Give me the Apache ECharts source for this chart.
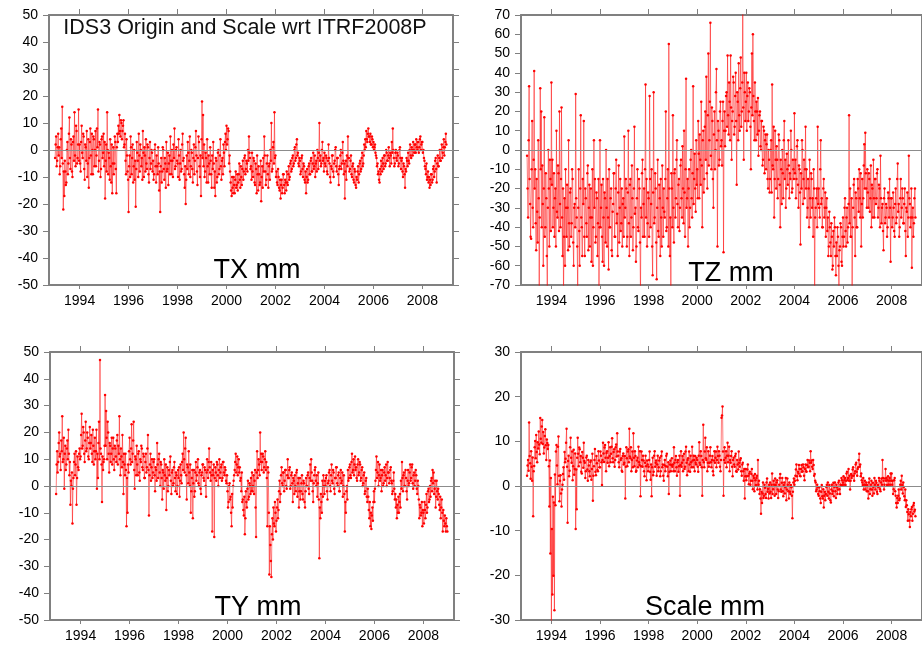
<!DOCTYPE html>
<html><head><meta charset="utf-8">
<script src="https://cdn.jsdelivr.net/npm/echarts@6/dist/echarts.min.js"></script>
<style>html,body{margin:0;padding:0;background:#fff}#c{width:922px;height:648px}</style>
</head><body><div id="c"></div>
<script>
// ---- data ----
const startYear = 1993;
const samplesPerYear = 48;
const yearTicks = [1994, 1996, 1998, 2000, 2002, 2004, 2006, 2008];
const mainTitle = 'IDS3 Origin and Scale wrt ITRF2008P';
const panelTitles = ['TX mm', 'TZ mm', 'TY mm', 'Scale mm'];
const txRange = [-50, 50];
const tzRange = [-70, 70];
const tyRange = [-50, 50];
const scaleRange = [-30, 30];

const txValues = [
 -3,2,5,-6,-4,1,6,-2,1,-9,-6,4,8,-3,16,-5,-22,-8,-17,-4,-8,-13,-12,0,3,-9,-5,6,12,-3,-7,4,2,-8,-10,3,5,-4,14,-2,-6,9,7,-5,-3,2,15,-4,
 2,-5,-8,3,9,-1,-3,6,5,-7,-11,2,1,-4,7,-10,-5,4,-14,-3,3,8,-2,-9,6,0,-9,5,4,-6,0,7,-6,-2,8,1,15,-8,-4,3,2,-10,-7,4,5,-3,-1,6,
 -6,3,-18,-4,2,-8,14,0,-9,-1,-3,-11,4,-6,-12,2,-16,-5,1,-9,-5,5,3,-7,-16,1,6,3,9,6,13,7,5,11,10,4,7,9,11,1,2,6,-4,-9,4,-2,-8,-11,
 -23,-6,-2,-10,5,1,-9,-3,2,-12,-6,0,-11,-4,-21,-7,3,-1,-4,-10,6,-2,-8,2,0,-6,-3,-11,7,-1,-10,1,-2,-8,4,-5,-7,2,1,-9,-12,-3,3,-7,-5,0,-1,-8,
 -4,-11,-9,0,2,-6,-12,-2,-6,-9,1,-5,-15,-8,-23,-6,-3,-12,-8,1,0,-7,-11,-3,-5,-14,3,-8,-7,-1,-13,-5,-2,-9,5,-4,-9,0,-4,-10,2,-3,8,-7,-6,0,1,-4,
 -5,-10,4,-2,-11,-5,0,-8,-7,2,6,-4,-3,-9,-14,-6,-20,-11,-2,-7,3,-1,-9,-4,5,-10,-6,0,-1,-7,-12,-3,2,-9,-4,1,7,-2,-8,-13,-3,5,3,-6,-10,-2,-17,4,
 18,-3,13,-6,2,-10,-8,-1,-3,-12,4,-6,-12,-2,-5,-9,1,-4,-9,-14,-2,-7,3,-5,-14,-8,-17,-3,-4,-12,-10,-1,0,-9,-7,-2,4,-6,-11,-4,-3,-9,2,-1,-6,3,6,0,
 9,2,4,8,7,-5,-2,-8,-12,-15,-17,-10,-14,-16,-10,-13,-16,-11,-8,-14,-13,-9,-15,-12,-9,-5,-11,-14,-6,-10,-13,-7,-4,-11,-8,-3,-2,-9,-7,-4,-5,-8,0,-4,5,-1,-3,-7,
 -6,-11,-1,-8,-10,-3,-4,-12,-13,-5,-7,-16,-2,-9,-15,-6,-9,-13,-12,-4,-19,-10,-6,-14,-3,-8,5,-2,-8,-13,-11,-5,-2,-9,-14,-6,-5,-11,0,-4,10,-8,-7,1,3,-5,14,-3,
 -2,-10,-8,-12,-13,-7,-10,-14,-15,-11,-18,-13,-11,-16,-14,-9,-9,-13,-16,-11,-12,-15,-8,-12,-13,-9,-6,-11,-10,-5,-4,-8,-7,-3,-2,-6,-5,0,1,-4,-3,2,4,-2,-1,-5,-6,-3,
 -4,-9,-8,-3,-2,-7,-10,-5,-6,-11,-12,-8,-16,-10,-7,-12,-11,-6,-5,-9,-9,-4,-3,-8,-8,-5,-1,-7,-6,-2,-10,-5,-4,-8,0,-3,-7,-1,10,-4,-2,-6,-5,0,3,-4,-3,-8,
 -1,-5,-6,-2,-3,-8,-9,-4,2,-3,-5,-10,-12,-6,-7,-2,-2,-8,-10,-5,-4,0,1,-6,-8,-3,-3,-9,-13,-7,-6,-2,0,-7,-5,-1,3,-4,-9,-5,-18,-8,-4,-11,-2,-6,5,-3,
 -3,-8,-7,-4,-2,-9,-10,-6,-5,-11,-12,-7,-8,-13,-14,-10,-11,-8,-6,-12,-9,-5,-4,-8,-7,-3,-1,-6,-5,-2,2,0,4,1,7,4,3,6,8,5,5,3,6,2,2,5,4,1,
 3,0,1,2,-1,-2,-3,-6,-5,-9,-8,-11,-12,-7,-9,-4,-6,-8,-3,-5,-7,-2,-2,-6,-5,0,-1,-4,-4,-2,1,-3,-6,-1,-2,-5,3,-1,8,0,-3,-6,-5,-1,0,-3,-4,-1,
 -2,-6,-5,0,1,-3,-7,-4,-3,-8,-10,-5,-6,-9,-14,-7,-8,-3,-4,-6,-1,-4,-5,0,2,-2,-3,1,0,-2,3,0,-1,2,2,-1,4,1,0,3,3,-1,1,4,5,0,2,3,
 3,-1,0,-3,-4,-6,-7,-9,-5,-11,-10,-8,-12,-10,-14,-11,-13,-9,-9,-12,-11,-7,-6,-10,-8,-4,-3,-7,-12,-5,-2,-6,-6,-3,0,-4,-4,0,2,-3,-1,1,4,-2,1,3,6,2
];
const tzValues = [
 -3,-20,-35,5,33,-15,-28,-45,-46,-10,15,-30,-40,-5,41,-20,-10,-38,-52,-15,-32,-48,5,-25,-75,-35,32,-10,20,-40,-8,-28,-60,-20,17,-45,-40,-12,-25,-55,-75,-30,0,-20,-50,-5,-15,-42,
 35,-18,-5,-40,-30,-12,-45,-25,-20,-50,10,-32,-35,-8,-12,-42,20,-28,-40,-15,22,-35,-55,-20,-75,-45,-25,-60,-10,-30,-45,-18,-30,-52,5,-38,-50,-22,-20,-45,-38,-10,-15,-48,-60,-30,-28,-40,
 29,-25,-35,-50,-75,-30,-10,-42,-60,-20,18,-35,-40,-55,-15,-28,15,-45,-55,-20,-25,-38,-45,-12,-8,-52,-30,-18,-50,-35,-20,-58,-35,-10,-60,-40,5,-30,-15,-48,-45,-22,-25,-55,-38,-15,-75,-40,
 5,-40,-30,-18,-45,-58,-15,-35,-60,-22,-25,-48,0,-30,-50,-15,-35,-62,-10,-40,-40,-25,-20,-52,-55,-32,-28,-12,-12,-45,-45,-20,-5,-38,-33,-55,-22,-8,-48,-30,-15,-42,-38,-20,-50,-28,-25,-45,
 7,-35,-30,-15,-20,-50,-45,-22,10,-38,-55,-18,-15,-45,-35,-8,-25,-52,-40,-20,12,-33,-30,-58,-50,-25,-10,-40,-42,-15,-20,-48,-75,-30,-35,-12,-5,-45,-28,-20,-45,-10,34,-35,-15,-50,-38,-22,
 -25,-45,28,-15,-40,-28,-10,-50,-65,-22,30,-38,-35,-12,-20,-48,-67,-30,-5,-42,-45,-18,-25,-55,-15,-35,-50,-8,-30,-45,-20,-32,-35,-15,20,-42,-40,-25,-10,-50,55,-20,-55,-35,-75,-12,-20,-40,
 18,-30,-48,-12,-10,-35,-25,-5,5,-28,-40,-18,-15,-42,-30,-8,-5,-25,-35,2,-20,-38,10,-22,-45,-10,37,-30,-25,-15,-50,-20,-10,-40,-30,-5,0,-25,-35,-12,33,-28,-15,-2,-20,-32,5,-18,
 -10,-25,15,-2,-25,8,-5,-18,25,-8,-40,5,10,-22,-15,12,20,-5,38,-12,-20,18,50,-8,5,25,66,-3,-10,22,15,-15,-30,8,20,-10,0,30,42,5,-50,15,10,-8,-5,20,25,2,
 5,-8,15,25,-53,10,20,2,10,28,30,12,49,18,8,35,25,5,49,22,-5,15,20,38,35,8,12,28,40,15,-18,30,25,5,45,18,10,32,48,12,20,35,75,22,-5,40,30,15,
 25,40,10,28,35,15,20,32,30,12,-10,22,50,18,60,28,15,5,35,20,5,25,20,8,27,-3,10,18,20,2,0,15,15,-8,-5,12,10,-12,5,8,-10,3,8,-15,-20,0,-5,-22,
 -15,0,5,-22,34,-8,-10,12,-35,-15,10,-5,-20,2,-5,-25,-15,8,5,-18,-40,-5,-10,-28,0,-12,-25,5,15,-15,-5,-30,-20,-2,-10,-18,5,-8,-25,-12,-15,10,0,-22,-20,-5,-10,-15,
 19,-12,-5,-25,-15,2,5,-18,-30,-8,-10,-22,-49,-12,-20,5,0,-28,-15,-5,-25,-10,12,-20,-10,-35,-30,-15,-20,-40,-5,-25,-35,-12,-15,-30,-25,-45,-10,-20,-75,-35,-30,-25,-20,-40,12,-28,
 -20,-30,-35,-10,5,-28,-25,-40,-40,-20,-15,-35,-30,-22,-45,-30,-25,-42,-35,-55,-50,-32,-40,-48,-55,-38,-45,-62,-60,-42,-50,-35,-40,-55,-65,-48,-55,-40,-45,-60,-75,-52,-50,-38,-40,-58,-60,-45,
 -35,-50,-45,-30,-25,-42,-50,-35,-30,-48,-40,-28,18,-38,-20,-45,-45,-25,-75,-40,-30,-18,-15,-35,-55,-22,-25,-40,-40,-15,-20,-32,-10,-25,-35,-12,-50,-28,-15,-35,-25,-8,3,-20,9,-12,-20,-30,
 -10,-22,-30,-12,-15,-32,-25,-8,-40,-18,-20,-35,-5,-25,-35,-15,-15,-28,-25,-12,-10,-35,-30,-18,-20,-40,-3,-25,-38,-30,-28,-42,-52,-25,-20,-38,-35,-28,-30,-45,-40,-22,-25,-35,-15,-30,-58,-25,
 -25,-40,-35,-22,-30,-42,-45,-28,-20,-38,-35,-15,-7,-32,-28,-45,-40,-25,-15,-35,-30,-20,-25,-38,-38,-28,-20,-42,-55,-30,-32,-22,-45,-35,-3,-25,-28,-40,-35,-20,-61,-35,-30,-45,-38,-25,-20,-35
];
const tyValues = [
 -3,8,13,5,9,16,20,11,12,6,17,13,26,9,10,18,-1,12,15,6,8,14,17,10,21,12,4,9,-7,2,0,5,-14,-1,3,9,12,4,8,13,-7,3,11,7,6,12,14,10,
 11,19,27,14,15,22,20,12,9,17,24,13,14,20,18,11,10,16,22,14,16,19,12,9,21,15,8,13,18,10,13,21,-1,12,3,16,24,10,47,14,12,8,-6,11,6,9,10,15,
 34,15,28,18,10,24,20,12,5,16,15,9,12,18,8,14,18,10,6,15,14,11,9,17,19,8,15,12,26,10,4,14,11,7,19,9,-3,12,8,4,12,6,-15,3,-10,8,5,13,
 18,10,8,14,23,9,12,17,24,6,-1,11,10,4,15,8,4,12,13,5,2,10,9,15,14,7,6,12,11,3,3,9,12,5,7,14,19,6,-11,4,8,12,2,7,10,3,5,9,
 10,4,-2,7,6,2,16,8,3,10,12,5,0,9,8,3,-5,6,5,-1,10,4,2,8,-9,3,7,-2,0,6,4,9,11,2,-3,5,6,0,1,7,9,3,-2,5,4,-3,0,6,
 3,7,-4,2,8,4,1,9,12,6,20,10,5,14,18,4,-5,8,7,1,13,5,0,8,-10,-2,3,6,-12,1,6,-4,-2,5,9,2,4,7,10,1,0,5,6,-1,-3,4,5,8,
 8,3,2,7,6,0,-4,5,10,6,3,9,14,7,5,2,9,4,-17,6,4,8,-19,3,7,5,2,9,8,4,0,6,10,3,5,7,8,2,3,9,9,5,4,7,6,2,1,4,
 -2,-8,-6,0,1,-5,-4,-10,-15,-3,-8,0,2,4,6,9,12,5,8,11,4,7,10,5,7,2,3,-2,5,-6,-5,-9,-11,-4,-18,-12,-2,-6,-8,-1,2,-5,-4,1,0,-3,3,-2,
 5,-2,0,4,-3,2,6,-8,-19,5,13,3,6,10,8,4,20,9,12,6,9,12,11,5,7,10,13,6,9,3,-15,7,5,-10,-33,-15,-22,-28,-34,-18,-12,-20,-8,-14,-15,-6,-10,-17,
 -13,-8,-5,-12,-9,-2,2,-6,-3,4,7,1,0,5,5,-2,2,6,6,0,-1,4,10,3,3,6,7,-1,0,4,5,1,-6,3,2,-3,4,0,-2,5,6,-4,1,3,-8,-2,3,-5,
 -2,1,4,-3,-5,2,1,-6,-8,-2,3,0,0,4,5,-1,-3,3,8,2,10,5,2,-2,-6,1,4,6,7,2,0,4,-4,1,5,-5,-27,-8,-12,-3,-6,-10,2,-4,4,0,-3,2,
 0,3,4,-2,-5,1,2,5,6,0,-2,4,8,2,1,6,5,-1,-3,3,3,7,7,1,0,4,5,-2,-2,3,6,1,2,5,-4,0,4,-3,-17,-6,-10,-2,0,-5,6,2,3,7,
 8,4,3,9,12,5,6,10,4,8,11,6,7,3,2,8,10,4,5,9,8,2,3,6,7,0,1,4,5,-3,-2,2,3,-4,-6,-1,-4,-9,-12,-6,-15,-10,-16,-11,-8,-13,-6,-2,
 -6,-1,2,6,11,3,5,9,0,4,8,2,3,6,-2,4,6,0,1,5,7,2,4,8,0,3,9,5,5,1,3,6,7,2,1,-3,-2,2,5,-1,-5,-3,-8,-5,-12,-7,-10,-4,
 -10,-6,-3,-8,2,-1,9,3,-2,4,5,0,0,6,3,-2,-5,2,6,0,1,5,8,2,3,7,8,1,-1,4,5,0,2,6,4,-1,-3,2,0,-5,-12,-7,-8,-11,-10,-6,-15,-9,
 -10,-14,-6,-9,-12,-7,-3,-10,-8,-2,-1,-6,-5,0,-4,2,3,-2,6,1,5,-3,-1,2,-8,-4,2,-2,-5,-1,-3,-7,-9,-4,-12,-8,-5,-10,-17,-9,-13,-15,-11,-14,-17,-12,-15,-17
];
const scaleValues = [
 2.3,4.6,5.8,3.4,14.2,6.7,5.1,1.6,7.8,4.3,1.2,6.4,-6.8,3.3,4.5,8.7,10.1,6.2,11.4,7.6,5.3,9.8,8.4,12.2,9.3,7.1,15.2,10.6,9.7,13.3,14.8,9.4,12.1,7.3,8.6,11.2,12.7,9.1,5.8,10.4,9.6,8.3,9.2,4.4,-4.6,5.7,-15.1,1.8,
 -30.2,-9.6,-24.3,-2.4,-20.1,-3.7,-27.8,2.6,-4.3,7.7,9.2,4.6,0.4,8.8,11.1,2.3,-3.4,1.2,2.4,-1.7,-4.6,-0.8,0.3,2.7,4.2,1.4,7.6,5.3,6.1,9.7,12.8,4.3,-8.2,5.6,6.8,2.2,3.4,8.7,10.8,6.3,5.2,7.7,1.3,4.4,8.1,2.5,3.8,7.3,
 -9.6,3.7,-5.2,6.3,10.8,7.2,4.4,8.6,8.2,5.3,6.7,3.2,2.8,7.6,6.3,4.1,9.7,5.6,5.2,1.8,3.3,6.4,6.8,3.7,1.2,5.8,4.6,3.3,2.2,5.4,5.7,1.4,3.8,7.2,-3.3,2.3,4.4,5.8,8.3,3.2,2.4,6.7,5.1,3.6,3.3,7.8,5.7,4.2,
 4.2,7.7,6.8,5.3,0.2,5.8,9.7,7.3,5.4,8.6,9.2,6.3,3.3,7.4,7.8,5.2,6.3,9.8,4.4,6.7,8.7,5.3,7.2,8.8,10.7,6.2,5.3,7.6,8.2,4.3,5.8,8.7,9.3,6.6,11.8,7.7,6.8,5.3,4.2,7.7,8.3,5.8,6.2,3.4,3.2,6.7,7.3,4.8,
 5.2,6.7,-2.8,4.3,8.7,6.2,4.4,7.7,8.2,5.3,12.8,6.6,6.2,8.7,3.3,5.8,7.7,4.2,11.8,6.3,4.4,7.8,6.7,3.2,3.4,5.7,6.3,4.2,8.8,5.3,4.7,7.8,-2.3,4.4,7.7,5.8,4.3,6.8,5.7,3.3,2.2,5.2,6.8,4.4,1.3,5.7,4.8,3.3,
 4.3,5.8,7.7,3.2,1.4,4.8,-2.3,4.2,6.3,2.4,3.2,6.8,7.8,4.3,5.2,5.7,2.3,4.8,6.8,3.3,4.2,5.7,6.3,2.2,3.3,6.7,7.7,4.2,4.8,2.3,1.2,4.7,5.8,3.3,4.4,6.8,7.2,4.3,2.2,5.3,-1.8,3.2,4.8,5.7,3.3,4.7,6.2,4.3,
 4.8,3.3,8.7,5.2,3.3,5.8,6.7,4.2,2.3,5.3,5.8,3.2,4.4,6.8,-2.2,4.7,7.8,4.3,5.2,6.7,3.3,5.8,7.2,3.8,4.3,7.7,8.8,5.2,2.4,5.8,6.2,3.3,7.7,4.8,3.2,6.8,5.3,4.2,8.8,5.7,4.2,6.8,5.8,3.3,6.7,5.2,4.8,6.3,
 5.8,4.3,3.2,6.8,9.8,5.2,4.7,7.8,6.7,4.2,-2.2,5.8,13.7,5.3,4.2,7.7,10.8,6.2,5.8,8.7,3.3,5.2,7.8,4.3,5.2,6.8,8.7,5.3,4.2,5.8,6.7,3.3,2.4,5.7,7.8,5.2,6.3,7.7,4.2,5.8,8.8,6.7,5.2,7.8,6.8,4.3,3.3,5.8,
 15.3,15.8,17.8,7.7,-2.2,5.8,8.7,5.2,6.3,7.8,4.2,6.8,9.7,5.3,6.8,8.8,3.3,5.8,5.2,6.7,7.8,4.3,2.2,5.8,6.3,4.8,4.3,6.7,7.2,3.3,3.2,5.8,4.8,3.7,7.7,5.2,4.3,5.8,6.2,3.3,2.3,4.8,5.2,3.3,1.2,3.8,-2.8,2.2,
 3.8,1.3,2.2,3.7,4.8,2.3,0.4,2.8,3.2,0.3,1.2,2.7,3.8,1.2,-0.7,2.3,1.8,-1.2,2.7,1.3,0.2,1.8,2.3,-0.8,5.8,0.3,1.2,-1.8,-0.7,-2.8,-6.2,-1.3,-3.8,-1.7,0.8,-2.7,-2.2,0.3,-0.4,-1.8,-2.7,0.8,1.7,-1.3,-0.6,-2.8,0.3,-1.7,
 0.8,-1.3,-2.7,0.3,2.8,-1.8,-0.7,1.2,0.3,-2.2,1.7,0.2,-1.8,0.8,1.3,-0.8,-2.7,-1.2,0.3,1.8,2.7,-0.8,-1.3,0.7,1.8,-1.2,-2.3,0.2,0.8,-1.7,-0.3,1.8,-3.2,-0.8,1.7,0.3,-1.2,-2.8,0.8,-1.3,-1.8,0.2,-0.3,-2.2,-7.2,-1.3,0.8,1.7,
 0.3,1.2,2.3,3.7,4.8,2.2,1.3,3.2,2.8,4.7,3.8,2.3,2.2,3.8,4.7,3.2,3.3,4.8,4.2,2.3,1.3,3.8,4.8,3.3,3.2,4.7,5.8,4.2,4.3,5.7,5.2,3.3,7.8,5.2,5.7,4.3,3.8,5.8,4.7,2.3,2.7,1.2,0.8,-1.2,-0.8,0.3,-0.3,-1.8,
 -2.2,-0.3,-1.2,-2.8,-3.8,-1.3,0.2,-2.3,-2.8,-0.7,-4.8,-2.2,-1.3,-3.2,-1.8,-0.2,0.3,-2.2,0.8,-1.3,-2.8,0.2,-1.7,-3.2,-3.7,-0.8,0.3,-1.8,-1.2,0.7,-2.3,-0.2,0.8,-1.2,-2.7,0.3,-0.3,-1.8,-0.8,0.8,1.2,-0.7,-1.8,0.3,0.2,1.8,1.3,0.2,
 0.8,2.2,0.3,1.3,1.8,0.2,1.2,2.8,3.2,1.3,1.8,3.8,1.2,2.3,-0.8,1.2,2.7,1.8,2.3,3.7,4.2,2.3,1.2,2.8,3.3,4.8,5.2,3.2,2.3,3.8,4.2,5.8,7.2,4.3,4.8,2.2,2.8,1.3,0.8,0.2,1.8,-0.8,0.3,1.2,-0.8,0.2,0.8,-1.2,
 0.2,-1.2,-2.8,0.8,1.7,-1.8,-0.7,0.3,1.2,-0.8,-2.2,0.7,-0.2,-1.7,1.8,0.3,-0.8,1.2,0.7,-1.3,-1.8,0.2,-0.3,1.8,1.2,-0.7,-1.2,0.8,1.7,0.3,5.8,1.8,1.2,-0.8,0.3,1.7,3.8,1.2,1.8,0.2,1.3,2.2,0.3,1.2,1.8,0.3,2.8,1.2,
 2.8,0.3,1.2,-1.8,-0.7,1.3,1.8,-1.2,-2.2,-3.8,-4.8,-2.7,-3.8,-2.2,-0.8,-3.2,-2.8,0.3,1.2,-0.8,2.3,0.2,-1.7,0.8,-0.2,-2.3,-3.2,-0.8,-4.7,-3.2,-4.3,-5.8,-7.8,-5.2,-6.3,-7.7,-9.2,-5.8,-6.8,-5.2,-4.7,-7.8,-6.2,-4.3,-3.8,-5.7,-5.3,-6.8
];

// ---- chart ----
const FONT = 'Liberation Sans, Arial, Helvetica, sans-serif';
const FRAME = '#808080';
const panels = [
  {values: txValues, range: txRange, grid: {left: 49, top: 15, width: 404, height: 270}, label: [257, 271]},
  {values: tzValues, range: tzRange, grid: {left: 521, top: 15, width: 404, height: 270}, label: [731, 274]},
  {values: tyValues, range: tyRange, grid: {left: 50, top: 352, width: 404, height: 268}, label: [258, 608]},
  {values: scaleValues, range: scaleRange, grid: {left: 521, top: 352, width: 404, height: 268}, label: [705, 608]}
];
const grids = [], xAxes = [], yAxes = [], series = [];
panels.forEach((p, i) => {
  grids.push(p.grid);
  const xBase = {
    gridIndex: i, type: 'value', min: 1992.75, max: 2009.25,
    axisLine: {show: true, onZero: false, lineStyle: {color: FRAME, width: 2}},
    splitLine: {show: false}
  };
  xAxes.push(Object.assign({}, xBase, {
    position: 'bottom',
    axisTick: {show: true, customValues: yearTicks, length: 4, lineStyle: {color: FRAME, width: 1}},
    axisLabel: {show: true, customValues: yearTicks, formatter: v => String(v), fontSize: 14, fontFamily: FONT, color: '#000', margin: 9}
  }));
  xAxes.push(Object.assign({}, xBase, {
    position: 'top',
    axisTick: {show: true, customValues: yearTicks, length: 6, lineStyle: {color: FRAME, width: 1}},
    axisLabel: {show: false}
  }));
  const yBase = {
    gridIndex: i, type: 'value', min: p.range[0], max: p.range[1], interval: 10,
    axisLine: {show: true, onZero: false, lineStyle: {color: FRAME, width: 2}},
    splitLine: {show: false}
  };
  yAxes.push(Object.assign({}, yBase, {
    position: 'left',
    axisTick: {show: true, length: 6, lineStyle: {color: FRAME, width: 1}},
    axisLabel: {show: true, formatter: v => String(v), fontSize: 14, fontFamily: FONT, color: '#000', margin: 11}
  }));
  yAxes.push(Object.assign({}, yBase, {
    position: 'right',
    axisTick: {show: true, length: 6, lineStyle: {color: FRAME, width: 1}},
    axisLabel: {show: false}
  }));
  series.push({
    type: 'line', xAxisIndex: 2 * i, yAxisIndex: 2 * i,
    data: p.values.map((v, k) => [startYear + k / samplesPerYear, v]),
    showSymbol: true, showAllSymbol: true, symbol: 'circle', symbolSize: 2.5,
    itemStyle: {color: '#ff0000'},
    lineStyle: {color: 'rgba(255,0,0,0.5)', width: 1},
    clip: true, animation: false, silent: true,
    markLine: {
      silent: true, symbol: 'none', label: {show: false}, animation: false,
      lineStyle: {color: '#8c8c8c', width: 1, type: 'solid'},
      data: [{yAxis: 0}]
    }
  });
});

const graphics = [{
  type: 'text', x: 245, y: 28,
  style: {text: mainTitle, font: '21.5px ' + FONT, fill: '#111', align: 'center', verticalAlign: 'middle'}
}];
panels.forEach((p, i) => {
  graphics.push({
    type: 'text', x: p.label[0], y: p.label[1],
    style: {text: panelTitles[i], font: '27px ' + FONT, fill: '#000', align: 'center', verticalAlign: 'middle'}
  });
});

const chart = echarts.init(document.getElementById('c'), null, {renderer: 'canvas'});
chart.setOption({
  animation: false,
  backgroundColor: '#fff',
  grid: grids, xAxis: xAxes, yAxis: yAxes, series: series,
  graphic: graphics
});
</script></body></html>
